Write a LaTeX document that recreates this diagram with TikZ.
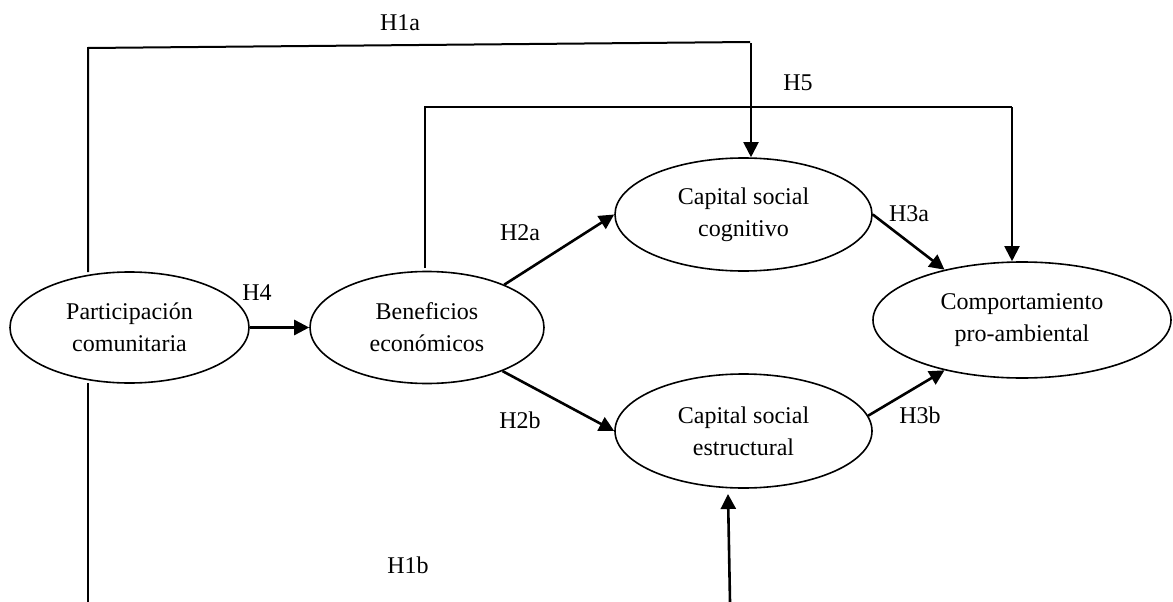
\documentclass[tikz,border=0pt]{standalone}
\usepackage{fontspec}
\setmainfont{Liberation Serif}
\usetikzlibrary{shapes.geometric,arrows.meta}
\begin{document}
\begin{tikzpicture}[x=1pt,y=-1pt,
  txt/.style={font=\fontsize{24}{32}\selectfont},
  oval/.style={ellipse,draw,line width=1.6pt,inner sep=0pt,align=center,txt},
  lab/.style={txt,inner sep=0pt},
  wire/.style={line width=2pt},
  arr/.style={line width=2.6pt,-{Triangle[length=15pt,width=15pt]}},
  arrw/.style={line width=2pt,-{Triangle[length=15pt,width=15pt]}}]
\useasboundingbox (0,0) rectangle (1173,602);
% nodes
\node[oval,minimum width=239pt,minimum height=111pt] (pc) at (129.5,327.5) {Participación\\comunitaria};
\node[oval,minimum width=234pt,minimum height=112pt] (ben) at (427,327.5) {Beneficios\\económicos};
\node[oval,minimum width=257pt,minimum height=113pt] (cog) at (743.5,214.5) {Capital social\\cognitivo};
\node[oval,minimum width=257pt,minimum height=114pt] (cse) at (743.5,431) {Capital social\\estructural};
\node[oval,minimum width=298pt,minimum height=116pt] (cpa) at (1022,320) {Comportamiento\\pro-ambiental};
% labels
\node[lab] (lH1a) at (400,23) {H1a};
\node[lab] (lH5) at (798,83) {H5};
\node[lab] (lH4) at (257,293) {H4};
\node[lab] (lH2a) at (520,233) {H2a};
\node[lab] (lH2b) at (520,420) {H2b};
\node[lab] (lH3a) at (909,214) {H3a};
\node[lab] (lH3b) at (920,415) {H3b};
\node[lab] (lH1b) at (408,565) {H1b};
% helper coordinates
\coordinate (a0) at (88,272);
\coordinate (a1) at (88,48);
\coordinate (a2) at (750,42);
\coordinate (a3) at (751,43);
\coordinate (b0) at (425,268);
\coordinate (b1) at (425,107);
\coordinate (b2) at (1012,107);
\coordinate (d0) at (88,383);
\coordinate (d1) at (88,602);
\coordinate (c1) at (730,602);
\coordinate (c2) at (728,494);
% H1a
\draw[wire] (a0) -- (a1) -- (a2);
\draw[arrw] (a3) -- (a3 |- cog.north);
% H5
\draw[wire] (b0) -- (b1) -- (b2);
\draw[arrw] (b2) -- (b2 |- cpa.north);
% H4
\draw[arr] (pc.east) -- (ben.west);
% H2a, H2b
\draw[arr] (ben.29) -- (cog.west);
\draw[arr] (ben.330) -- (cse.west);
% H3a, H3b
\draw[arr] (cog.east) -- (cpa.147);
\draw[arr] (cse.7) -- (cpa.213);
% H1b
\draw[wire] (d0) -- (d1);
\draw[arr] (c1) -- (c2);
\end{tikzpicture}
\end{document}
